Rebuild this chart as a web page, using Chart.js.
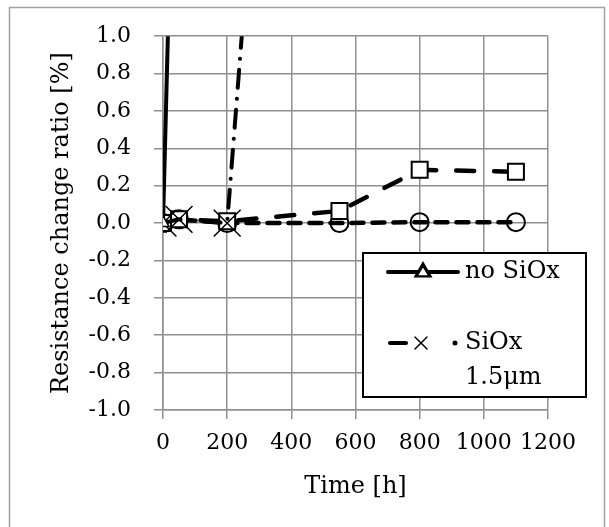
<!DOCTYPE html>
<html>
<head>
<meta charset="utf-8">
<script src="https://cdn.jsdelivr.net/npm/chart.js@4.4.1/dist/chart.umd.min.js"></script>
<style>
  html, body { margin: 0; padding: 0; background: #fff; }
  #wrap { width: 609px; height: 527px; }
</style>
</head>
<body>
<div id="wrap"><canvas id="c" width="609" height="527"></canvas></div>
<script>
// ---- data ----
const seriesNames = ['no SiOx', 'SiOx 1.5\u03bcm', 'Series 3', 'Series 4'];
const timeNoSiOx   = [0, 50];
const valueNoSiOx  = [0, 3.3];
const timeSiOx15   = [0, 50, 200, 300];
const valueSiOx15  = [0, 0.02, 0.0, 2.2];
const timeSeries3  = [0, 50, 200, 550, 800, 1100];
const valueSeries3 = [0, 0.02, 0.01, 0.065, 0.285, 0.275];
const timeSeries4  = [0, 50, 200, 550, 800, 1100];
const valueSeries4 = [0, 0.02, 0.0, 0.0, 0.005, 0.005];
const xTickValues = [0, 200, 400, 600, 800, 1000, 1200];
const yTickValues = [-1.0, -0.8, -0.6, -0.4, -0.2, 0.0, 0.2, 0.4, 0.6, 0.8, 1.0];
const xTitle = 'Time [h]';
const yTitle = 'Resistance change ratio [%]';

const pts = (xs, ys) => xs.map((x, i) => ({ x: x, y: ys[i] }));
const FONT = 'DejaVu Serif';

const frame = {
  id: 'frame',
  beforeDraw(chart) {
    const c = chart.ctx;
    c.save();
    c.fillStyle = '#fff';
    c.fillRect(0, 0, chart.width, chart.height);
    c.strokeStyle = '#a0a0a0';
    c.lineWidth = 1.5;
    c.strokeRect(9.5, 7.5, 595, 540);
    c.restore();
  }
};

const legendBox = {
  id: 'legendBox',
  afterDraw(chart) {
    const c = chart.ctx;
    const ds = chart.data.datasets;
    c.save();
    const bx = 363, by = 253, bw = 223, bh = 144;
    c.fillStyle = '#fff';
    c.fillRect(bx, by, bw, bh);
    c.strokeStyle = '#000';
    c.lineWidth = 2;
    c.strokeRect(bx, by, bw, bh);
    c.font = '24px "' + FONT + '"';
    c.fillStyle = '#000';
    c.textBaseline = 'middle';
    c.textAlign = 'left';
    // entry 1
    let y = 272;
    c.strokeStyle = ds[0].borderColor;
    c.lineWidth = ds[0].borderWidth;
    c.setLineDash([]);
    c.lineCap = 'round';
    c.beginPath(); c.moveTo(388, y); c.lineTo(458, y); c.stroke();
    Chart.helpers.drawPoint(c, { pointStyle: 'triangle', radius: 7, borderWidth: 1.5 }, 423, y);
    c.fillStyle = '#fff';
    c.beginPath();
    c.moveTo(423, y - 6); c.lineTo(429, y + 4); c.lineTo(417, y + 4); c.closePath();
    c.fill(); c.lineWidth = 1.5; c.stroke();
    c.fillStyle = '#000';
    c.fillText(ds[0].label, 465, y);
    // entry 2
    y = 343;
    c.lineWidth = ds[1].borderWidth;
    c.beginPath(); c.moveTo(390, y); c.lineTo(406, y); c.stroke();
    c.beginPath(); c.arc(455, y, 2.5, 0, Math.PI * 2); c.fill();
    c.lineWidth = 1.5;
    c.beginPath();
    c.moveTo(415, y - 6); c.lineTo(427, y + 6);
    c.moveTo(427, y - 6); c.lineTo(415, y + 6);
    c.stroke();
    const parts = ds[1].label.split(' ');
    c.fillText(parts[0], 465, y);
    c.fillText(parts[1], 465, 378);
    c.restore();
  }
};

const gridColor = '#8f8f8f';

new Chart(document.getElementById('c'), {
  type: 'line',
  data: {
    datasets: [
      {
        label: seriesNames[0],
        data: pts(timeNoSiOx, valueNoSiOx),
        borderColor: '#000', borderWidth: 4,
        pointStyle: 'triangle', pointRadius: 7,
        pointBackgroundColor: '#fff', pointBorderColor: '#000', pointBorderWidth: 1.5
      },
      {
        label: seriesNames[1],
        data: pts(timeSiOx15, valueSiOx15),
        borderColor: '#000', borderWidth: 4,
        borderDash: [18, 11, 0.1, 11], borderCapStyle: 'round',
        pointStyle: 'crossRot', pointRadius: 19,
        pointBorderColor: '#000', pointBorderWidth: 1.5
      },
      {
        label: seriesNames[2],
        data: pts(timeSeries3, valueSeries3),
        borderColor: '#000', borderWidth: 4.5,
        borderDash: [18, 20], borderCapStyle: 'round',
        pointStyle: 'rect', pointRadius: 11.3,
        pointBackgroundColor: '#fff', pointBorderColor: '#000', pointBorderWidth: 2
      },
      {
        label: seriesNames[3],
        data: pts(timeSeries4, valueSeries4),
        borderColor: '#000', borderWidth: 4.5,
        borderDash: [12, 9], borderCapStyle: 'round',
        pointStyle: 'circle', pointRadius: 9,
        pointBackgroundColor: 'rgba(0,0,0,0)', pointBorderColor: '#000', pointBorderWidth: 2
      }
    ]
  },
  options: {
    responsive: false,
    animation: false,
    events: [],
    layout: { padding: { top: 35, right: 61, left: 0, bottom: 0 } },
    plugins: { legend: { display: false }, tooltip: { enabled: false } },
    elements: { line: { tension: 0 } },
    scales: {
      x: {
        type: 'linear', min: 0, max: 1200,
        afterFit(s) { s.height = 117; },
        afterBuildTicks(s) { s.ticks = xTickValues.map(v => ({ value: v })); },
        grid: { color: gridColor, lineWidth: 1.5, tickLength: 9, drawTicks: true },
        border: { color: gridColor, width: 1.5 },
        ticks: { color: '#000', font: { family: FONT, size: 22 }, padding: 11, maxRotation: 0, autoSkip: false,
                 callback: v => String(v) },
        title: { display: true, text: xTitle, color: '#000', font: { family: FONT, size: 24 }, padding: { top: 0, bottom: 26 } }
      },
      y: {
        type: 'linear', min: -1, max: 1,
        afterFit(s) { s.width = 163; },
        afterBuildTicks(s) { s.ticks = yTickValues.map(v => ({ value: v })); },
        grid: { color: gridColor, lineWidth: 1.5, tickLength: 9, drawTicks: true },
        border: { color: gridColor, width: 1.5 },
        ticks: { color: '#000', font: { family: FONT, size: 22 }, padding: 23, autoSkip: false,
                 callback: v => (Math.abs(v) < 1e-9 ? 0 : v).toFixed(1) },
        title: { display: true, text: yTitle, color: '#000', font: { family: FONT, size: 24 }, padding: { top: 47, bottom: 0 } }
      }
    }
  },
  plugins: [frame, legendBox]
});
</script>
</body>
</html>
